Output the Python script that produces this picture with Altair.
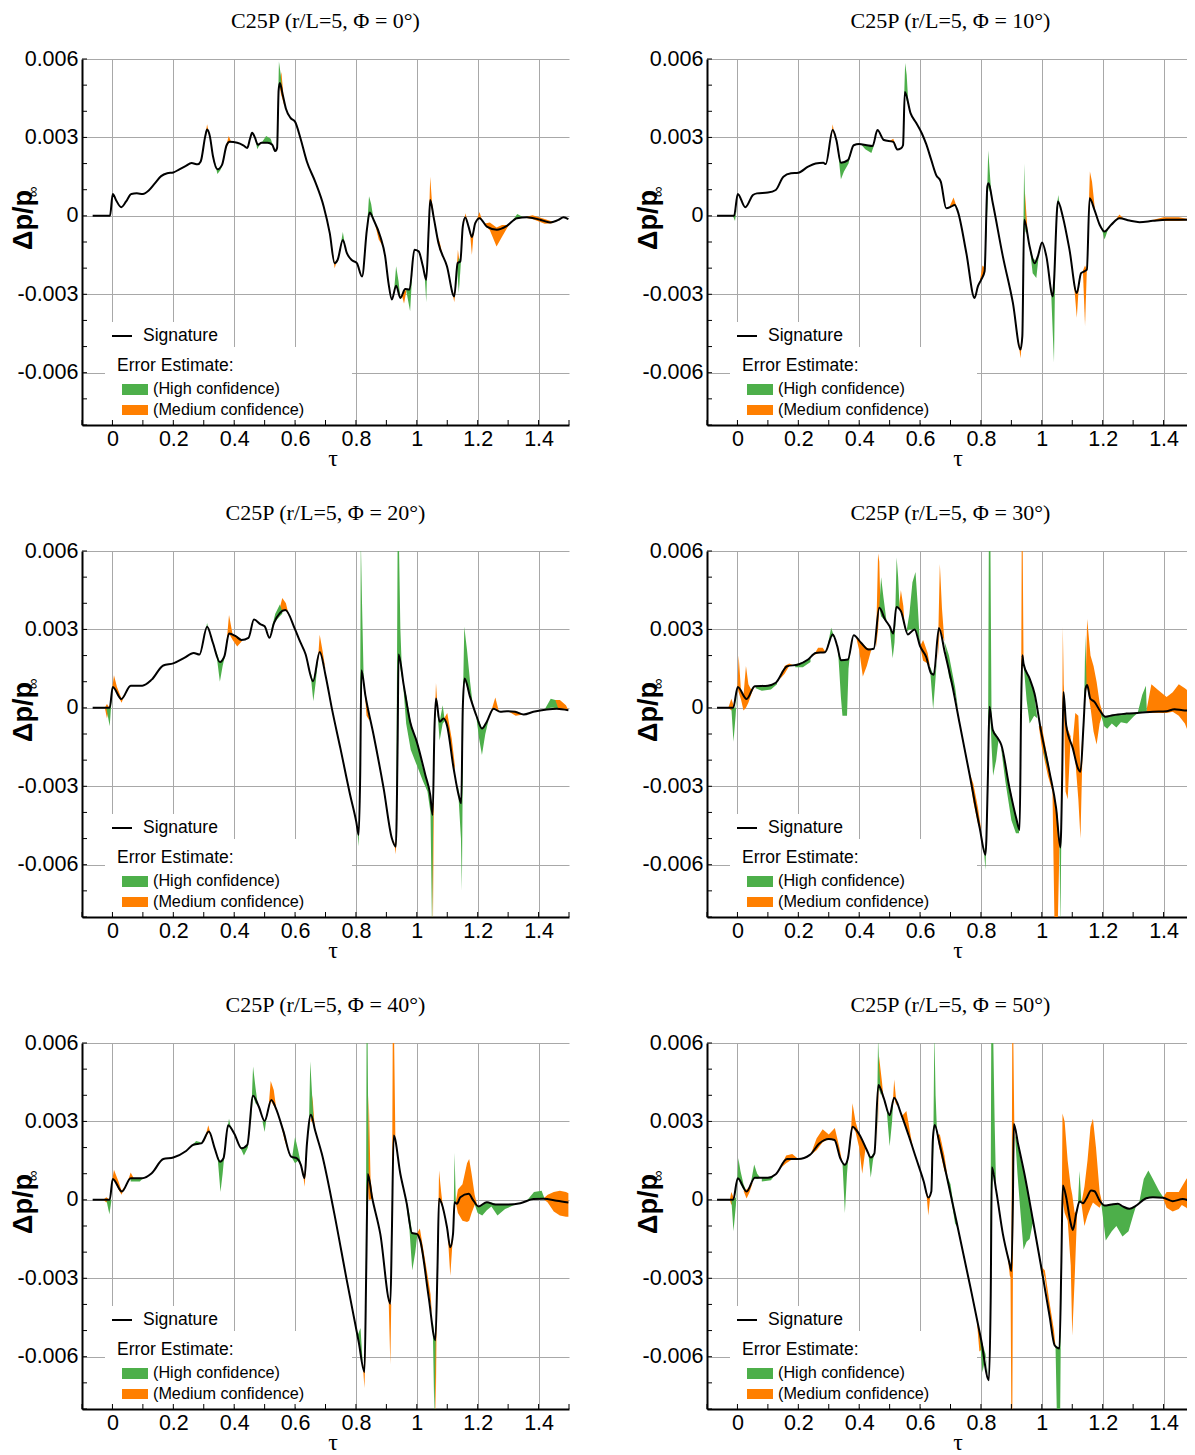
import altair as alt
import pandas as pd

TITLES = ["C25P (r/L=5, Φ = 0°)", "C25P (r/L=5, Φ = 10°)", "C25P (r/L=5, Φ = 20°)",
          "C25P (r/L=5, Φ = 30°)", "C25P (r/L=5, Φ = 40°)", "C25P (r/L=5, Φ = 50°)"]

X_MAJOR = [0, 0.2, 0.4, 0.6, 0.8, 1.0, 1.2, 1.4]
X_MINOR = [-0.1, 0.0, 0.1, 0.2, 0.3, 0.4, 0.5, 0.6, 0.7, 0.8, 0.9, 1.0, 1.1, 1.2, 1.3, 1.4, 1.5]
Y_MAJOR = [-0.006, -0.003, 0, 0.003, 0.006]
Y_MINOR = [-0.008, -0.007, -0.006, -0.005, -0.004, -0.003, -0.002, -0.001, 0.0,
           0.001, 0.002, 0.003, 0.004, 0.005, 0.006]

# signature values: (tau, dp/p x 1e-3)
SIG_0 = [(-0.065,0),(-0.008,0),(0.001,0.84),(0.012,0.6),(0.029,0.33),(0.045,0.55),(0.062,0.84),(0.08,0.86),(0.1,0.84),(0.12,0.98),(0.14,1.25),(0.16,1.52),(0.18,1.63),(0.2,1.66),(0.22,1.78),(0.24,1.9),(0.26,2.02),(0.28,1.97),(0.29,2.08),(0.305,3.05),(0.311,3.3),(0.32,3.05),(0.33,2.3),(0.345,1.78),(0.36,1.95),(0.375,2.7),(0.385,2.83),(0.41,2.8),(0.43,2.7),(0.443,2.6),(0.452,2.95),(0.459,3.18),(0.468,3.0),(0.478,2.72),(0.49,2.8),(0.51,2.8),(0.525,2.72),(0.535,2.48),(0.541,2.6),(0.546,4.8),(0.55,5.08),(0.56,4.6),(0.57,4.1),(0.585,3.75),(0.6,3.6),(0.617,3.0),(0.639,2.07),(0.666,1.31),(0.694,0.36),(0.714,-0.66),(0.73,-1.81),(0.74,-1.68),(0.757,-0.92),(0.77,-1.42),(0.787,-1.7),(0.803,-1.81),(0.82,-2.32),(0.836,-0.53),(0.845,0.13),(0.858,-0.15),(0.88,-0.79),(0.896,-1.55),(0.907,-2.57),(0.918,-3.2),(0.932,-2.67),(0.946,-3.14),(0.962,-2.8),(0.976,-2.82),(0.992,-1.3),(1.006,-1.36),(1.02,-1.93),(1.031,-2.44),(1.039,-0.53),(1.044,0.61),(1.055,-0.03),(1.071,-1.04),(1.099,-1.93),(1.123,-3.08),(1.134,-1.81),(1.143,-1.74),(1.151,-0.41),(1.159,-0.06),(1.17,-0.41),(1.181,-0.81),(1.192,-0.28),(1.206,-0.09),(1.23,-0.41),(1.263,-0.53),(1.296,-0.38),(1.329,-0.09),(1.362,-0.05),(1.405,-0.15),(1.438,-0.25),(1.466,-0.15),(1.482,-0.05),(1.498,-0.13)]
GREEN_0 = [
 [(0.335,2.1,2.1),(0.345,1.6,1.78),(0.355,1.75,1.85),(0.362,1.95,1.95)],
 [(0.468,3.0,3.0),(0.476,2.55,2.72),(0.485,2.75,2.75)],
 [(0.49,2.8,2.8),(0.505,2.8,3.05),(0.52,2.75,2.95),(0.527,2.7,2.7)],
 [(0.541,2.6,2.6),(0.547,4.9,5.9),(0.553,4.9,5.4),(0.558,4.7,4.7)],
 [(0.75,-1.1,-1.1),(0.757,-0.92,-0.62),(0.765,-1.2,-1.2)],
 [(0.836,-0.53,-0.53),(0.843,0.1,0.75),(0.85,0.0,0.45),(0.858,-0.15,-0.15)],
 [(0.925,-2.9,-2.9),(0.932,-2.67,-1.93),(0.94,-2.9,-2.5),(0.946,-3.14,-3.14)],
 [(0.965,-2.85,-2.85),(0.978,-3.65,-2.8),(0.985,-2.2,-2.2)],
 [(1.025,-2.1,-2.1),(1.031,-3.3,-2.4),(1.036,-1.2,-1.2)],
 [(1.132,-1.9,-1.9),(1.138,-2.95,-1.6),(1.145,-1.75,-1.75)],
 [(1.31,-0.25,-0.25),(1.33,-0.09,0.07),(1.35,-0.05,-0.05)],
]
ORANGE_0 = [
 [(0.305,3.05,3.05),(0.311,3.3,3.5),(0.318,3.1,3.1)],
 [(0.37,2.5,2.5),(0.382,2.8,3.05),(0.39,2.83,2.83)],
 [(0.548,5.0,5.0),(0.555,4.6,5.5),(0.565,4.2,4.2)],
 [(0.722,-1.3,-1.3),(0.73,-2.0,-1.8),(0.738,-1.7,-1.7)],
 [(0.86,-0.2,-0.2),(0.875,-0.9,-0.6),(0.89,-1.2,-1.2)],
 [(0.95,-3.0,-3.0),(0.958,-3.35,-2.9),(0.967,-2.8,-2.8)],
 [(1.039,-0.5,-0.5),(1.044,0.61,1.5),(1.05,0.2,0.5),(1.056,-0.03,-0.03)],
 [(1.065,-0.7,-0.7),(1.075,-1.3,-1.0),(1.085,-1.5,-1.5)],
 [(1.115,-2.8,-2.8),(1.123,-3.3,-3.05),(1.13,-2.5,-2.5)],
 [(1.13,-2.2,-2.2),(1.135,-1.9,-1.3),(1.14,-1.75,-1.75)],
 [(1.152,-0.35,-0.35),(1.16,-0.06,0.1),(1.168,-0.3,-0.3)],
 [(1.174,-0.55,-0.55),(1.181,-1.5,-0.8),(1.188,-0.45,-0.45)],
 [(1.196,-0.2,-0.2),(1.206,-0.09,0.15),(1.215,-0.2,-0.2)],
 [(1.22,-0.3,-0.3),(1.24,-0.55,-0.25),(1.262,-1.17,-0.45),(1.28,-0.8,-0.35),(1.30,-0.4,-0.35)],
 [(1.35,-0.06,-0.06),(1.38,-0.12,0.02),(1.42,-0.3,-0.12),(1.445,-0.28,-0.22),(1.46,-0.17,-0.17)],
]

SIG_1 = [(-0.067,0),(-0.011,0),(0.001,0.84),(0.026,0.33),(0.051,0.8),(0.064,0.86),(0.1,0.89),(0.126,0.99),(0.151,1.5),(0.176,1.63),(0.2,1.65),(0.232,1.88),(0.257,2.0),(0.282,2.03),(0.29,1.98),(0.313,3.28),(0.325,2.9),(0.34,2.03),(0.363,2.13),(0.382,2.7),(0.4,2.75),(0.425,2.7),(0.444,2.67),(0.46,3.28),(0.481,2.9),(0.512,2.83),(0.525,2.54),(0.537,2.58),(0.544,2.7),(0.55,4.74),(0.569,3.92),(0.587,3.56),(0.606,3.15),(0.62,2.75),(0.637,2.13),(0.653,1.56),(0.668,1.31),(0.686,0.29),(0.703,0.36),(0.714,0.42),(0.724,0.17),(0.752,-1.42),(0.779,-3.14),(0.79,-2.7),(0.801,-2.44),(0.812,-2.12),(0.821,1.12),(0.825,1.25),(0.839,0.48),(0.872,-1.55),(0.905,-3.33),(0.93,-5.11),(0.936,-4.6),(0.942,-0.15),(0.96,-1.17),(0.976,-1.81),(0.987,-1.55),(1.001,-1.02),(1.015,-1.55),(1.036,-3.08),(1.053,0.55),(1.069,-0.03),(1.091,-1.3),(1.115,-2.95),(1.129,-2.19),(1.14,-2.12),(1.148,-2.06),(1.157,0.67),(1.173,0.23),(1.19,-0.34),(1.206,-0.6),(1.228,-0.34),(1.255,-0.09),(1.288,-0.18),(1.321,-0.24),(1.365,-0.19),(1.409,-0.15),(1.496,-0.15)]
GREEN_1 = [
 [(-0.015,0,0),(-0.008,-0.2,0.0),(-0.002,0.3,0.3)],
 [(0.33,2.5,2.5),(0.34,1.4,2.03),(0.35,1.7,2.05),(0.365,2.0,2.13),(0.375,2.5,2.5)],
 [(0.405,2.75,2.75),(0.42,2.55,2.7),(0.44,2.4,2.67),(0.448,2.67,2.67)],
 [(0.545,3.5,3.5),(0.551,4.7,5.85),(0.556,4.4,5.4),(0.562,4.2,4.2)],
 [(0.815,-1.5,-1.5),(0.824,1.1,2.5),(0.83,0.9,1.5),(0.836,0.6,0.6)],
 [(0.938,-2.0,-2.0),(0.942,-0.15,2.0),(0.946,-0.6,0.0),(0.95,-0.7,-0.7)],
 [(0.96,-1.17,-1.17),(0.97,-2.2,-1.6),(0.982,-2.38,-1.75),(0.99,-1.5,-1.5)],
 [(1.03,-2.7,-2.7),(1.036,-4.5,-3.0),(1.04,-5.6,-2.8),(1.045,-1.0,-1.0)],
 [(1.048,0.2,0.2),(1.054,0.55,0.8),(1.06,0.3,0.3)],
 [(1.195,-0.4,-0.4),(1.206,-0.9,-0.6),(1.218,-0.5,-0.5)],
]
ORANGE_1 = [
 [(0.306,2.9,2.9),(0.313,3.28,3.5),(0.32,3.0,3.0)],
 [(0.5,2.86,2.86),(0.512,2.83,2.95),(0.52,2.7,2.7)],
 [(0.695,0.3,0.3),(0.71,0.4,0.7),(0.72,0.35,0.35)],
 [(0.795,-2.6,-2.6),(0.805,-2.35,-1.9),(0.815,-2.0,-2.0)],
 [(0.922,-4.7,-4.7),(0.93,-5.45,-5.1),(0.937,-4.5,-4.5)],
 [(0.942,-0.2,-0.2),(0.944,-0.3,1.0),(0.955,-0.9,-0.9)],
 [(1.105,-2.5,-2.5),(1.115,-3.9,-2.95),(1.122,-2.6,-2.6)],
 [(1.135,-2.1,-2.1),(1.142,-4.2,-1.9),(1.148,-2.06,-2.06)],
 [(1.152,-0.5,-0.5),(1.158,0.67,1.7),(1.165,0.5,1.3),(1.175,0.2,0.2)],
 [(1.24,-0.2,-0.2),(1.255,-0.09,0.05),(1.27,-0.12,-0.12)],
 [(1.35,-0.2,-0.2),(1.4,-0.2,-0.05),(1.45,-0.2,-0.05),(1.495,-0.15,-0.15)],
]

SIG_2 = [(-0.065,0),(-0.009,0),(0.001,0.8),(0.029,0.34),(0.06,0.85),(0.098,0.85),(0.129,1.08),(0.167,1.62),(0.2,1.7),(0.236,1.91),(0.267,2.1),(0.286,2.04),(0.311,3.1),(0.33,2.49),(0.353,1.75),(0.368,1.98),(0.383,2.84),(0.405,2.74),(0.424,2.6),(0.447,2.68),(0.465,3.38),(0.487,3.19),(0.5,3.12),(0.516,2.68),(0.531,3.25),(0.568,3.74),(0.6,3.0),(0.617,2.52),(0.634,2.07),(0.659,1.02),(0.681,2.14),(0.7,1.25),(0.721,-0.03),(0.749,-1.55),(0.781,-3.33),(0.801,-4.35),(0.809,-4.86),(0.814,-2.57),(0.818,1.44),(0.831,0.48),(0.858,-1.04),(0.891,-3.08),(0.918,-4.99),(0.931,-5.31),(0.937,-1.3),(0.94,2.04),(0.957,0.87),(0.978,-0.53),(1.0,-1.3),(1.028,-2.57),(1.044,-3.33),(1.052,-4.1),(1.058,-0.79),(1.063,0.36),(1.075,-0.53),(1.088,-0.41),(1.099,-0.66),(1.121,-2.32),(1.14,-3.46),(1.146,-3.65),(1.151,-0.03),(1.157,1.12),(1.175,0.42),(1.197,-0.34),(1.214,-0.79),(1.23,-0.53),(1.252,-0.03),(1.274,-0.15),(1.296,-0.13),(1.323,-0.15),(1.351,-0.25),(1.383,-0.15),(1.427,-0.06),(1.46,-0.03),(1.498,-0.09)]
GREEN_2 = [
 [(-0.02,0,0),(-0.009,-0.7,0.0),(0.0,0.8,0.8)],
 [(0.305,2.9,2.9),(0.311,3.1,3.25),(0.318,2.9,2.9)],
 [(0.34,2.2,2.2),(0.353,1.0,1.75),(0.362,1.6,1.9),(0.37,2.0,2.0)],
 [(0.52,2.9,2.9),(0.535,3.3,3.6),(0.55,3.5,3.95),(0.558,3.6,3.7)],
 [(0.65,1.4,1.4),(0.66,0.25,1.02),(0.668,1.0,1.5),(0.675,1.8,1.8)],
 [(0.803,-4.5,-4.5),(0.809,-5.3,-4.86),(0.813,-3.0,-2.0),(0.816,0.0,6.5),(0.82,1.3,4.0),(0.826,0.8,0.8)],
 [(0.932,-5.3,-5.3),(0.937,-1.3,6.5),(0.941,2.04,6.5),(0.946,1.5,3.0),(0.952,1.1,1.1)],
 [(0.955,0.9,0.9),(0.965,-0.6,0.5),(0.98,-1.6,-0.55),(1.0,-2.2,-1.3),(1.02,-2.8,-2.3),(1.035,-3.2,-2.9),(1.045,-4.0,-3.3),(1.05,-8.5,-3.8),(1.054,-4.1,-4.1)],
 [(1.068,-0.2,-0.2),(1.075,-1.25,-0.53),(1.085,-0.6,0.1),(1.092,-0.5,-0.5)],
 [(1.135,-3.0,-3.0),(1.145,-5.0,-3.6),(1.148,-7.0,-2.0),(1.152,-1.0,-0.03)],
 [(1.151,0.0,0.0),(1.156,1.1,3.1),(1.165,0.8,2.2),(1.175,0.4,1.0),(1.185,0.0,0.0)],
 [(1.195,-0.3,-0.3),(1.205,-1.2,-0.5),(1.214,-1.8,-0.79),(1.225,-1.0,-0.6),(1.235,-0.5,-0.5)],
 [(1.42,-0.06,-0.06),(1.44,0.0,0.35),(1.455,0.0,0.3),(1.465,-0.03,-0.03)],
]
ORANGE_2 = [
 [(-0.025,0,0),(-0.018,-0.4,0.15),(-0.01,0,0)],
 [(0.0,0.8,0.8),(0.005,0.8,1.25),(0.015,0.55,0.8),(0.03,0.2,0.35),(0.04,0.5,0.5)],
 [(0.375,2.5,2.5),(0.383,2.84,3.55),(0.395,2.6,2.8),(0.41,2.35,2.74),(0.425,2.55,2.6)],
 [(0.545,3.6,3.6),(0.558,3.7,4.2),(0.57,3.74,4.0),(0.58,3.5,3.5)],
 [(0.675,1.8,1.8),(0.681,2.13,2.8),(0.69,1.9,2.2),(0.7,1.47,1.47)],
 [(0.826,1.0,1.0),(0.835,-0.3,0.3),(0.845,-0.5,-0.5)],
 [(0.925,-5.1,-5.1),(0.931,-5.6,-5.31),(0.936,-4.0,-4.0)],
 [(1.048,-3.8,-3.8),(1.053,-8.5,-4.1),(1.057,-1.5,-1.5)],
 [(1.058,-0.8,-0.8),(1.063,0.36,0.95),(1.07,-0.3,-0.3)],
 [(1.09,-0.4,-0.4),(1.1,-0.65,-0.2),(1.115,-1.8,-1.2),(1.125,-2.4,-2.2)],
 [(1.245,-0.1,-0.1),(1.258,0.0,0.4),(1.27,-0.15,-0.15)],
 [(1.3,-0.13,-0.13),(1.325,-0.3,-0.15),(1.35,-0.25,-0.25)],
 [(1.45,0.0,0.3),(1.47,-0.03,0.3),(1.49,-0.07,0.1),(1.498,-0.09,-0.09)],
]

SIG_3 = [(-0.067,0),(-0.014,0),(0.001,0.8),(0.03,0.34),(0.057,0.83),(0.1,0.85),(0.126,0.96),(0.163,1.59),(0.2,1.66),(0.232,1.85),(0.257,2.1),(0.288,2.13),(0.313,2.81),(0.328,2.36),(0.34,1.82),(0.363,1.85),(0.382,2.78),(0.406,2.49),(0.431,2.23),(0.448,2.26),(0.466,3.83),(0.485,3.38),(0.5,3.12),(0.512,2.84),(0.522,3.86),(0.537,3.7),(0.56,2.81),(0.582,3.0),(0.6,2.36),(0.62,1.95),(0.637,1.31),(0.645,1.27),(0.662,3.05),(0.681,2.14),(0.708,0.74),(0.73,-0.6),(0.763,-2.57),(0.796,-4.6),(0.815,-5.62),(0.823,-2.57),(0.828,0.04),(0.839,-0.85),(0.856,-1.17),(0.867,-1.42),(0.894,-3.08),(0.916,-4.22),(0.927,-4.67),(0.932,-0.03),(0.936,2.01),(0.94,1.69),(0.96,1.12),(0.976,0.55),(0.998,-0.92),(1.025,-2.44),(1.047,-3.84),(1.061,-5.34),(1.067,-2.57),(1.071,0.61),(1.08,-0.66),(1.102,-1.55),(1.119,-2.32),(1.127,-2.44),(1.137,-0.66),(1.144,0.74),(1.149,0.87),(1.159,0.36),(1.173,0.23),(1.19,-0.09),(1.209,-0.34),(1.233,-0.28),(1.277,-0.22),(1.321,-0.19),(1.365,-0.15),(1.409,-0.13),(1.436,-0.05),(1.463,-0.09),(1.496,-0.11)]
GREEN_3 = [
 [(-0.02,0,0),(-0.013,-1.3,0.0),(-0.006,-0.3,0.0),(0.0,0.8,0.8)],
 [(0.06,0.75,0.83),(0.08,0.65,0.85),(0.11,0.7,0.86),(0.13,0.9,0.96)],
 [(0.19,1.55,1.66),(0.215,1.55,1.75),(0.24,1.75,1.9)],
 [(0.295,2.3,2.3),(0.308,2.75,3.06),(0.318,2.7,2.7)],
 [(0.33,2.3,2.3),(0.34,0.4,1.82),(0.345,-0.3,1.8),(0.36,-0.3,1.85),(0.365,1.5,1.9),(0.37,2.1,2.1)],
 [(0.466,3.83,3.83),(0.472,3.5,5.0),(0.48,3.4,4.2),(0.49,3.3,3.3)],
 [(0.5,3.12,3.12),(0.51,1.9,2.84),(0.516,2.5,3.0),(0.52,3.5,3.5)],
 [(0.518,3.4,3.4),(0.523,3.86,5.75),(0.528,3.8,5.0),(0.533,3.75,3.75)],
 [(0.555,2.9,2.9),(0.565,3.0,3.6),(0.575,3.0,4.8),(0.585,3.0,5.2),(0.592,2.8,4.0),(0.6,2.36,2.36)],
 [(0.632,1.6,1.6),(0.643,-0.05,1.28),(0.65,1.0,1.4),(0.655,1.8,1.8)],
 [(0.68,2.55,2.55),(0.695,1.2,2.0),(0.715,0.5,0.8),(0.725,-0.06,-0.06)],
 [(0.808,-5.2,-5.2),(0.815,-6.2,-5.62),(0.82,-4.0,-4.0)],
 [(0.823,-2.6,-2.6),(0.826,-1.0,6.5),(0.831,-0.3,6.5),(0.835,-1.5,-0.7),(0.84,-2.6,-0.85),(0.85,-2.0,-1.0),(0.858,-1.2,-1.2)],
 [(0.865,-1.42,-1.42),(0.88,-2.8,-2.2),(0.9,-4.3,-3.3),(0.915,-4.8,-4.2),(0.925,-4.8,-4.67),(0.93,-3.0,-3.0)],
 [(0.94,1.69,1.69),(0.95,0.3,1.4),(0.96,-0.6,1.12),(0.975,-0.3,0.55),(0.985,-0.4,-0.4)],
 [(0.998,-0.92,-0.92),(1.01,-1.9,-1.5),(1.02,-2.3,-2.2)],
 [(1.058,-5.0,-5.0),(1.061,-8.5,-5.34),(1.064,-5.0,-5.0)],
 [(1.138,-0.6,-0.6),(1.143,0.6,2.8),(1.147,0.87,0.87)],
 [(1.19,-0.09,-0.09),(1.205,-0.7,-0.34),(1.215,-0.8,-0.3),(1.23,-0.6,-0.28),(1.245,-0.75,-0.27),(1.26,-0.55,-0.25),(1.28,-0.6,-0.22),(1.3,-0.35,-0.2),(1.315,-0.2,-0.19)],
 [(1.315,-0.19,-0.19),(1.33,-0.15,0.5),(1.342,-0.15,0.85),(1.345,-0.15,-0.15)],
]
ORANGE_3 = [
 [(-0.03,0,0),(-0.02,-0.1,0.35),(-0.01,0,0)],
 [(0.0,0.8,0.8),(0.004,0.6,2.0),(0.012,0.3,0.6),(0.02,-0.1,0.5),(0.028,0.0,1.6),(0.036,0.2,0.9),(0.045,0.5,0.7),(0.055,0.83,0.83)],
 [(0.14,1.1,1.1),(0.155,1.3,1.6),(0.17,1.6,1.7),(0.185,1.63,1.63)],
 [(0.25,2.0,2.0),(0.265,2.1,2.3),(0.28,2.13,2.3),(0.29,2.13,2.13)],
 [(0.39,2.7,2.7),(0.4,2.2,2.6),(0.412,1.2,2.45),(0.425,1.6,2.3),(0.44,2.23,2.23)],
 [(0.455,2.3,2.3),(0.462,3.0,5.9),(0.466,3.83,5.6),(0.47,3.8,3.8)],
 [(0.53,3.8,3.8),(0.537,3.7,4.5),(0.545,3.3,3.9),(0.55,3.0,3.0)],
 [(0.6,2.36,2.36),(0.61,1.8,2.6),(0.625,1.7,2.1),(0.632,1.6,1.6)],
 [(0.658,1.8,1.8),(0.665,3.12,5.5),(0.672,2.8,3.8),(0.68,2.55,2.55)],
 [(0.76,-2.4,-2.4),(0.775,-3.6,-2.9),(0.79,-4.4,-3.8),(0.8,-4.8,-4.6)],
 [(0.932,-0.03,-0.03),(0.934,0.5,6.5),(0.937,2.0,6.5),(0.94,1.69,1.69)],
 [(0.99,-0.7,-0.7),(1.0,-1.5,-0.7),(1.02,-2.6,-2.0),(1.035,-3.2,-3.0),(1.042,-8.5,-3.4),(1.052,-8.5,-4.1),(1.058,-5.3,-5.3)],
 [(1.066,-3.0,-3.0),(1.069,-0.5,3.1),(1.072,0.4,0.9),(1.078,-3.2,-0.5),(1.085,-3.5,-0.8),(1.095,-1.1,-1.1)],
 [(1.1,-1.5,-1.5),(1.11,-2.0,-0.2),(1.12,-3.5,-0.3),(1.127,-5.0,-2.44),(1.133,-2.0,-1.0)],
 [(1.143,0.5,0.5),(1.149,0.87,3.4),(1.16,0.0,2.0),(1.17,-0.9,1.6),(1.18,-1.4,1.0),(1.19,-0.6,0.2),(1.2,-0.2,-0.2)],
 [(1.343,-0.15,-0.15),(1.36,-0.2,0.9),(1.38,-0.2,0.7),(1.41,-0.2,0.42),(1.43,-0.15,0.6),(1.45,-0.3,0.9),(1.47,-0.6,0.75),(1.48,-0.9,0.65),(1.498,-0.6,0.6)],
]

SIG_4 = [(-0.065,0),(-0.009,0),(0.001,0.8),(0.031,0.32),(0.06,0.83),(0.098,0.83),(0.129,1.02),(0.167,1.56),(0.2,1.62),(0.242,1.87),(0.267,2.12),(0.292,2.16),(0.317,2.61),(0.336,1.97),(0.353,1.46),(0.365,1.59),(0.38,2.85),(0.4,2.54),(0.424,1.97),(0.443,2.1),(0.462,3.98),(0.481,3.56),(0.5,3.02),(0.522,3.82),(0.537,3.5),(0.562,2.61),(0.587,1.65),(0.606,1.59),(0.619,1.34),(0.631,0.83),(0.639,2.14),(0.652,3.26),(0.666,2.65),(0.688,1.76),(0.727,-0.41),(0.77,-3.08),(0.809,-5.43),(0.828,-6.58),(0.834,-2.57),(0.839,0.99),(0.853,0.1),(0.88,-1.3),(0.913,-3.97),(0.918,-1.3),(0.924,2.46),(0.946,0.99),(0.967,-0.15),(0.984,-1.27),(1.0,-1.3),(1.011,-1.55),(1.039,-3.72),(1.061,-5.37),(1.068,-2.57),(1.073,0.04),(1.082,-0.15),(1.099,-1.04),(1.11,-1.81),(1.119,-1.3),(1.124,-0.09),(1.132,-0.15),(1.143,0.1),(1.17,0.23),(1.186,-0.03),(1.203,-0.25),(1.23,-0.09),(1.258,-0.18),(1.296,-0.18),(1.34,-0.13),(1.383,0.03),(1.416,0.04),(1.46,-0.03),(1.498,-0.1)]
GREEN_4 = [
 [(-0.02,0,0),(-0.01,-0.55,0.0),(-0.003,0,0)],
 [(0.06,0.7,0.83),(0.09,0.7,0.83),(0.1,0.83,0.83)],
 [(0.26,2.05,2.05),(0.275,2.1,2.25),(0.29,2.15,2.2)],
 [(0.345,1.7,1.7),(0.355,0.3,1.46),(0.362,1.0,1.55),(0.37,2.0,2.0)],
 [(0.376,2.6,2.6),(0.383,2.85,3.1),(0.39,2.7,2.7)],
 [(0.42,2.0,2.0),(0.432,1.7,1.98),(0.445,2.0,2.1)],
 [(0.455,3.0,3.0),(0.462,3.98,5.1),(0.47,3.7,4.3),(0.478,3.6,3.6)],
 [(0.493,3.0,3.0),(0.5,2.6,3.02),(0.507,3.2,3.2)],
 [(0.59,1.6,1.6),(0.6,1.4,2.4),(0.61,1.5,1.9),(0.62,1.34,1.34)],
 [(0.645,2.5,2.5),(0.65,3.2,5.3),(0.656,3.1,4.0),(0.662,2.8,2.8)],
 [(0.805,-5.2,-5.2),(0.815,-5.9,-4.9),(0.822,-6.2,-6.2)],
 [(0.832,-4.0,-4.0),(0.835,-2.0,6.5),(0.838,0.5,6.5),(0.842,0.8,0.8)],
 [(0.96,0.3,0.3),(0.975,-1.0,-0.5),(0.985,-2.7,-1.27),(0.995,-2.0,-1.28),(1.002,-1.3,-1.3)],
 [(1.052,-4.6,-4.6),(1.058,-8.5,-5.2),(1.062,-5.37,-5.37)],
 [(1.12,-1.3,-1.3),(1.124,-0.09,1.8),(1.128,-0.1,0.0)],
 [(1.186,-0.03,-0.03),(1.2,-0.5,-0.25),(1.215,-0.6,-0.2),(1.23,-0.4,-0.09),(1.245,-0.25,-0.1),(1.265,-0.6,-0.18),(1.29,-0.35,-0.18),(1.32,-0.2,-0.15)],
 [(1.36,-0.05,-0.05),(1.385,0.03,0.3),(1.41,0.04,0.35),(1.42,0.04,0.04)],
]
ORANGE_4 = [
 [(-0.03,0,0),(-0.02,-0.1,0.1),(-0.01,0,0)],
 [(0.0,0.8,0.8),(0.005,0.8,1.15),(0.02,0.4,0.7),(0.03,0.2,0.35),(0.04,0.5,0.5)],
 [(0.05,0.7,0.7),(0.06,0.83,1.05),(0.07,0.83,0.83)],
 [(0.3,2.2,2.2),(0.315,2.6,2.85),(0.325,2.4,2.4)],
 [(0.512,3.4,3.4),(0.52,3.8,4.55),(0.53,3.6,4.2),(0.538,3.5,3.5)],
 [(0.55,3.1,3.1),(0.565,2.3,2.6),(0.58,1.75,1.75)],
 [(0.625,1.2,1.2),(0.631,0.5,0.83),(0.638,1.5,1.5)],
 [(0.652,3.0,3.0),(0.657,3.0,4.0),(0.665,2.7,2.7)],
 [(0.822,-6.2,-6.2),(0.828,-7.2,-6.58),(0.833,-5.0,-5.0)],
 [(0.838,0.99,0.99),(0.842,0.0,4.0),(0.848,0.0,0.8),(0.855,0.1,0.1)],
 [(0.907,-3.6,-3.6),(0.913,-6.3,-3.97),(0.916,-4.0,-4.0)],
 [(0.918,-1.3,-1.3),(0.921,0.5,6.5),(0.925,2.46,6.5),(0.93,2.0,2.0)],
 [(1.0,-1.3,-1.3),(1.01,-1.6,-1.1),(1.03,-2.9,-2.5),(1.045,-4.0,-3.6),(1.05,-4.4,-4.4)],
 [(1.058,-5.2,-5.2),(1.062,-8.5,-5.37),(1.066,-3.5,-3.5)],
 [(1.069,-2.0,-2.0),(1.073,0.04,1.12),(1.08,-0.15,0.3),(1.088,-0.5,-0.5)],
 [(1.1,-1.04,-1.04),(1.11,-2.9,-1.81),(1.118,-1.5,-1.3)],
 [(1.128,-0.1,-0.1),(1.135,-0.5,0.4),(1.15,-0.8,0.6),(1.165,-0.85,1.4),(1.172,-0.8,1.56),(1.18,-0.5,1.0),(1.19,-0.2,0.2),(1.198,-0.2,-0.2)],
 [(1.415,0.04,0.04),(1.43,-0.1,0.2),(1.45,-0.45,0.3),(1.47,-0.6,0.35),(1.49,-0.65,0.3),(1.498,-0.65,0.25)],
]

SIG_5 = [(-0.067,0),(-0.014,0),(0.001,0.83),(0.03,0.32),(0.057,0.85),(0.1,0.85),(0.126,0.98),(0.163,1.56),(0.2,1.56),(0.238,1.72),(0.269,2.16),(0.3,2.33),(0.319,2.29),(0.338,1.59),(0.353,1.34),(0.363,1.59),(0.378,2.8),(0.4,2.51),(0.425,1.91),(0.438,1.62),(0.45,1.78),(0.463,4.39),(0.481,3.88),(0.5,3.24),(0.515,3.91),(0.537,3.31),(0.562,2.48),(0.587,1.59),(0.612,0.7),(0.627,0.09),(0.637,0.32),(0.642,2.3),(0.648,2.86),(0.664,2.14),(0.686,0.99),(0.719,-0.79),(0.763,-3.21),(0.801,-5.37),(0.826,-6.9),(0.832,-3.84),(0.836,1.25),(0.85,0.36),(0.872,-1.3),(0.894,-2.44),(0.9,-2.72),(0.905,-0.03),(0.908,2.9),(0.922,2.14),(0.943,0.99),(0.971,-0.79),(0.998,-2.57),(1.026,-4.48),(1.042,-5.56),(1.058,-5.69),(1.064,-2.57),(1.069,0.55),(1.08,0.1),(1.093,-0.79),(1.102,-1.15),(1.113,-0.53),(1.124,-0.06),(1.135,-0.13),(1.146,0.04),(1.162,0.36),(1.173,0.33),(1.19,-0.03),(1.206,-0.22),(1.228,-0.18),(1.25,-0.15),(1.266,-0.25),(1.288,-0.34),(1.31,-0.22),(1.343,0.06),(1.365,0.1),(1.398,0.08),(1.43,-0.05),(1.463,0.03),(1.485,-0.03),(1.498,-0.09)]
GREEN_5 = [
 [(-0.02,0,0),(-0.013,-1.2,0.0),(-0.005,-0.2,0.1),(0.0,0.83,0.83)],
 [(0.0,0.83,0.83),(0.003,0.83,1.6),(0.01,0.6,1.1),(0.02,0.4,0.6),(0.03,0.32,0.32)],
 [(0.045,0.7,0.7),(0.055,0.85,1.35),(0.065,0.8,1.0),(0.075,0.85,0.85)],
 [(0.08,0.7,0.85),(0.11,0.75,0.87),(0.12,0.9,0.9)],
 [(0.345,1.45,1.45),(0.353,-0.5,1.34),(0.36,1.0,1.5),(0.366,1.9,1.9)],
 [(0.43,1.8,1.8),(0.438,0.85,1.62),(0.445,1.5,1.75),(0.45,1.78,1.78)],
 [(0.458,2.5,2.5),(0.462,4.3,6.2),(0.466,4.2,5.0),(0.472,4.0,4.0)],
 [(0.49,3.5,3.5),(0.5,2.05,3.24),(0.508,3.0,3.6),(0.512,3.8,3.8)],
 [(0.643,1.5,1.5),(0.647,2.86,6.5),(0.651,2.8,4.0),(0.656,2.5,2.5)],
 [(0.68,1.2,1.2),(0.7,0.2,0.6),(0.715,-0.9,-0.6),(0.725,-1.1,-1.1)],
 [(0.795,-5.1,-5.1),(0.805,-6.6,-5.5),(0.815,-6.0,-5.9),(0.822,-6.7,-6.6)],
 [(0.831,-3.0,-3.0),(0.834,0.0,6.5),(0.84,0.9,6.5),(0.845,1.0,3.0),(0.85,0.36,0.36)],
 [(0.912,2.5,2.5),(0.92,1.0,2.2),(0.93,-0.5,1.6),(0.94,-1.9,1.1),(0.95,-1.6,0.6),(0.96,-1.5,0.0),(0.97,-0.9,-0.79),(0.975,-1.1,-1.1)],
 [(0.99,-2.0,-2.0),(1.0,-2.9,-2.6),(1.01,-3.2,-3.2)],
 [(1.045,-5.6,-5.6),(1.05,-8.5,-5.6),(1.06,-8.5,-5.69),(1.064,-3.0,-3.0)],
 [(1.118,-0.3,-0.3),(1.124,-0.06,1.1),(1.13,-0.13,-0.13)],
 [(1.195,-0.1,-0.1),(1.21,-1.55,-0.22),(1.23,-1.2,-0.18),(1.245,-1.0,-0.15),(1.265,-1.4,-0.25),(1.285,-1.2,-0.34),(1.3,-0.6,-0.28),(1.31,-0.22,-0.22)],
 [(1.32,-0.1,-0.1),(1.335,0.0,0.8),(1.35,0.08,1.12),(1.365,0.1,0.8),(1.385,0.1,0.35),(1.4,0.08,0.08)],
]
ORANGE_5 = [
 [(-0.025,0,0),(-0.02,-0.2,0.3),(-0.01,0,0)],
 [(0.02,0.35,0.35),(0.03,0.05,0.4),(0.04,0.3,0.5),(0.05,0.65,0.65)],
 [(0.14,1.2,1.2),(0.16,1.4,1.7),(0.18,1.55,1.75),(0.2,1.56,1.56)],
 [(0.24,1.72,1.72),(0.26,1.9,2.35),(0.28,2.2,2.7),(0.3,2.33,2.5),(0.32,2.29,2.75),(0.335,1.7,2.0),(0.345,1.4,1.4)],
 [(0.37,2.0,2.0),(0.378,2.8,3.7),(0.388,2.6,3.0),(0.4,2.0,2.51),(0.41,1.0,2.3),(0.42,1.9,2.1)],
 [(0.46,2.0,2.0),(0.465,4.39,5.5),(0.475,4.0,4.5),(0.48,3.88,3.88)],
 [(0.51,3.6,3.6),(0.515,3.91,4.6),(0.52,3.7,4.0),(0.525,3.6,3.6)],
 [(0.54,3.2,3.2),(0.555,2.7,3.4),(0.57,2.2,2.4),(0.58,1.8,1.8)],
 [(0.62,0.4,0.4),(0.627,-0.6,0.09),(0.634,0.2,0.2)],
 [(0.655,2.5,2.5),(0.665,1.9,2.5),(0.68,1.1,1.7),(0.69,0.9,0.9)],
 [(0.785,-4.4,-4.4),(0.795,-5.8,-5.0),(0.805,-5.7,-5.6)],
 [(0.885,-1.9,-1.9),(0.895,-2.9,-2.44),(0.9,-3.0,-2.72)],
 [(0.897,-2.6,-2.6),(0.9,-8.5,-2.72),(0.903,-8.5,6.5),(0.906,-0.5,6.5),(0.91,2.5,2.5)],
 [(1.0,-2.57,-2.57),(1.01,-3.0,-2.7),(1.025,-4.4,-3.9),(1.04,-5.5,-5.0),(1.045,-5.6,-5.6)],
 [(1.064,-2.57,-2.57),(1.068,0.0,3.3),(1.075,-0.5,3.0),(1.085,-0.8,1.5),(1.095,-2.5,0.5),(1.1,-5.2,0.2),(1.108,-3.0,-0.5),(1.115,-0.8,-0.4)],
 [(1.13,-0.13,-0.13),(1.14,-1.0,0.5),(1.15,-0.6,1.5),(1.16,-0.3,2.8),(1.168,-0.1,3.1),(1.178,-0.2,2.0),(1.19,-0.3,0.3),(1.198,-0.1,-0.1)],
 [(1.398,0.08,0.08),(1.41,-0.3,0.3),(1.43,-0.45,0.3),(1.45,-0.35,0.3),(1.46,-0.2,0.5),(1.475,-0.3,0.8),(1.485,-0.45,0.95),(1.498,-0.6,0.8)],
]

SIGS = [SIG_0, SIG_1, SIG_2, SIG_3, SIG_4, SIG_5]
GREENS = [GREEN_0, GREEN_1, GREEN_2, GREEN_3, GREEN_4, GREEN_5]
ORANGES = [ORANGE_0, ORANGE_1, ORANGE_2, ORANGE_3, ORANGE_4, ORANGE_5]

GREEN_C = "#4daf4a"
ORANGE_C = "#ff7f00"
GRID_C = "#a8a8a8"
SANS = "Liberation Sans, Arial, Helvetica, sans-serif"
SERIF = "Liberation Serif, Times New Roman, serif"

W, H = 487, 366
XS = alt.Scale(domain=[-0.1, 1.5], nice=False, zero=False)
YS = alt.Scale(domain=[-0.008, 0.006], nice=False, zero=False)
XAXIS = alt.Axis(values=X_MAJOR, grid=True, gridColor=GRID_C, gridWidth=1, ticks=False, tickSize=0,
                 domainColor="black", domainWidth=2, labelFont=SANS, labelFontSize=21.5,
                 labelColor="black", labelPadding=3, labelFlush=False, labelOverlap=False,
                 labelExpr="format(datum.value, '~g')", title=None)
YAXIS = alt.Axis(values=Y_MAJOR, grid=True, gridColor=GRID_C, gridWidth=1, ticks=False, tickSize=0,
                 domainColor="black", domainWidth=2, labelFont=SANS, labelFontSize=21.5,
                 labelColor="black", labelPadding=4, labelFlush=False, labelOverlap=False,
                 labelExpr="datum.value == 0 ? '0' : (datum.value < 0 ? '-' : '') + format(abs(datum.value), '.3f')",
                 title=None)

ONE = pd.DataFrame({"k": [0]})


def band_frame(segs):
    rows = []
    for i, seg in enumerate(segs):
        for t, lo, hi in seg:
            rows.append({"tau": t, "lo": lo * 1e-3, "hi": hi * 1e-3, "seg": i})
    return pd.DataFrame(rows)


def txt(s, x, y, **kw):
    return alt.Chart(ONE).mark_text(text=s, x=x, y=y, **kw)


def panel(idx):
    sig = pd.DataFrame(SIGS[idx], columns=["tau", "v"])
    sig["v"] = sig["v"] * 1e-3
    g = band_frame(GREENS[idx])
    o = band_frame(ORANGES[idx])

    X = lambda f: alt.X(f, type="quantitative", scale=XS, axis=XAXIS)
    Y = lambda f: alt.Y(f, type="quantitative", scale=YS, axis=YAXIS, stack=None)

    box_a = alt.Chart(ONE).mark_rect(color="white", x=23, x2=140, y=263, y2=288)
    box_b = alt.Chart(ONE).mark_rect(color="white", x=23, x2=270, y=288, y2=364)

    orange = alt.Chart(o).mark_area(color=ORANGE_C, clip=True, opacity=1).encode(
        x=X("tau"), y=Y("lo"), y2=alt.Y2("hi"), detail="seg:N")
    green = alt.Chart(g).mark_area(color=GREEN_C, clip=True, opacity=1).encode(
        x=X("tau"), y=Y("lo"), y2=alt.Y2("hi"), detail="seg:N")
    line = alt.Chart(sig).mark_line(color="black", strokeWidth=2, clip=True,
                                    interpolate="monotone").encode(x=X("tau"), y=Y("v"))

    xt = alt.Chart(pd.DataFrame({"v": X_MINOR})).mark_rule(color="black", strokeWidth=1).encode(
        x=X("v"), y=alt.value(H), y2=alt.value(H - 5))
    yt = alt.Chart(pd.DataFrame({"v": Y_MINOR})).mark_rule(color="black", strokeWidth=1).encode(
        y=Y("v"), x=alt.value(0), x2=alt.value(5))

    leg_line = alt.Chart(ONE).mark_rule(color="black", strokeWidth=2).encode(
        x=alt.value(30), x2=alt.value(50), y=alt.value(277))
    leg_sig = txt("Signature", 61, 277, align="left", baseline="middle", fontSize=17.5, font=SANS, color="black")
    leg_err = txt("Error Estimate:", 35, 307, align="left", baseline="middle", fontSize=17.5, font=SANS, color="black")
    sw_g = alt.Chart(ONE).mark_rect(color=GREEN_C, x=40, x2=66, y=325, y2=336)
    sw_o = alt.Chart(ONE).mark_rect(color=ORANGE_C, x=40, x2=66, y=346, y2=356)
    leg_hi = txt("(High confidence)", 71, 330, align="left", baseline="middle", fontSize=16.2, font=SANS, color="black")
    leg_md = txt("(Medium confidence)", 71, 351, align="left", baseline="middle", fontSize=16.2, font=SANS, color="black")

    title = txt(TITLES[idx], W / 2, -38, align="center", baseline="middle", fontSize=22, font=SERIF, color="black")
    ytitle = txt("Δp/p", -58.5, 161, align="center", baseline="middle", angle=270, fontSize=27,
                 fontWeight="bold", font=SANS, color="black")
    yinf = txt("∞", -49, 133, align="center", baseline="middle", angle=270, fontSize=15, font=SANS, color="black")
    xtitle = txt("τ", 251, 400, align="center", baseline="middle", fontSize=24, font=SERIF, color="black")

    layers = [box_a, box_b, orange, green, line, xt, yt, leg_line, leg_sig, leg_err,
              sw_g, sw_o, leg_hi, leg_md, title, ytitle, yinf, xtitle]
    if idx == 0:
        anchor = alt.Chart(ONE).mark_rule(opacity=0).encode(
            x=alt.value(-73.6), x2=alt.value(-73.6), y=alt.value(-58), y2=alt.value(-55))
        layers.append(anchor)
    return alt.layer(*layers).properties(width=W, height=H)


chart = alt.concat(*[panel(i) for i in range(6)], columns=2,
                   spacing={"row": 126, "column": 138}, bounds="flush").properties(
    padding={"top": -7, "bottom": 0, "left": 0, "right": -8}, background="white"
).configure_view(stroke=None)

chart.save("out.html", embed_options={"renderer": "svg", "actions": False})
